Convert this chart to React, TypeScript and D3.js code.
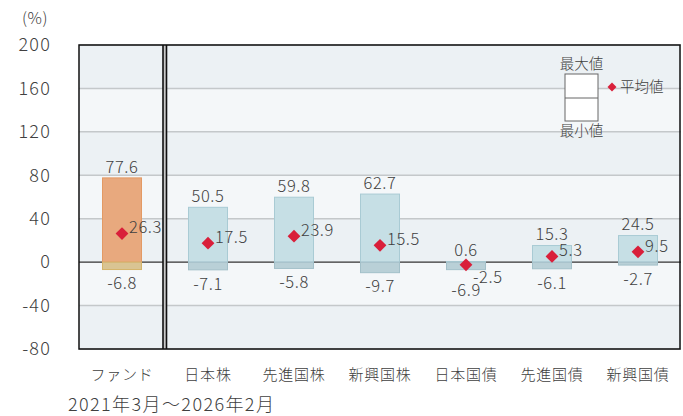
import React from "react";
import * as d3 from "d3";

const categories = ["ファンド", "日本株", "先進国株", "新興国株", "日本国債", "先進国債", "新興国債"];
const maxValues = [77.6, 50.5, 59.8, 62.7, 0.6, 15.3, 24.5];
const minValues = [-6.8, -7.1, -5.8, -9.7, -6.9, -6.1, -2.7];
const meanValues = [26.3, 17.5, 23.9, 15.5, -2.5, 5.3, 9.5];
const yTicks = [200, 160, 120, 80, 40, 0, -40, -80];

const W = 683;
const H = 416;
const M = { left: 79, right: 681, top: 45, bottom: 349 };
const FONT = "'Noto Sans CJK JP', 'Noto Sans', sans-serif";
const TXT = "#404040";

export default function App() {
  const y = d3.scaleLinear().domain([-80, 200]).range([M.bottom, M.top]);
  const x = d3.scaleBand().domain(categories).range([M.left, M.right]).paddingInner(0).paddingOuter(0);
  const bw = 39;
  const bands = d3.range(yTicks.length - 1).map((i) => ({ hi: yTicks[i], lo: yTicks[i + 1], dark: i % 2 === 0 }));
  const diamond = d3.symbol().type(d3.symbolSquare).size(82)();
  const sepX = (x(categories[1]) as number);

  return (
    <svg width={W} height={H} style={{ position: "absolute", left: 0, top: 0 }} fontFamily={FONT} fontWeight={300}>
      <rect x={0} y={0} width={W} height={H} fill="#fff" />
      {bands.map((b, i) => (
        <rect key={i} x={M.left} y={y(b.hi)} width={M.right - M.left} height={y(b.lo) - y(b.hi)} fill={b.dark ? "#ecf1f4" : "#f4f7f9"} />
      ))}
      {yTicks.map((t) => (
        <line key={t} x1={M.left} x2={M.right} y1={y(t)} y2={y(t)} stroke={t === 0 ? "#333" : "#c4c8ca"} strokeWidth={t === 0 ? 1.2 : 1.5} />
      ))}
      {yTicks.map((t) => (
        <text key={"l" + t} x={51} y={y(t)} dy="0.35em" textAnchor="end" fontSize={18} letterSpacing={1.2} fill={TXT}>{t}</text>
      ))}
      <text x={35} y={18} dy="0.35em" textAnchor="middle" fontSize={16} letterSpacing={0.5} fill={TXT}>(%)</text>

      {categories.map((c, i) => {
        const cx = (x(c) as number) + x.bandwidth() / 2;
        const isFund = i === 0;
        const posFill = isFund ? "#e8a97e" : "#c6dfe5";
        const posStroke = isFund ? "#e39a64" : "#a9cbd4";
        const negFill = isFund ? "#d9c493" : "#b9d0d7";
        const negStroke = isFund ? "#d4b46a" : "#a3c0c9";
        const mean = meanValues[i];
        const meanBelow = mean < 0;
        const posTop = Math.max(maxValues[i], 0);
        return (
          <g key={c}>
            {maxValues[i] > 0 && (
              <rect x={cx - bw / 2} y={y(posTop)} width={bw} height={y(0) - y(posTop)} fill={posFill} stroke={posStroke} strokeWidth={1} />
            )}
            <rect x={cx - bw / 2} y={y(0)} width={bw} height={y(minValues[i]) - y(0)} fill={negFill} stroke={negStroke} strokeWidth={1} />
            <text x={cx} y={y(maxValues[i]) - 11} dy="0.35em" textAnchor="middle" fontSize={16.5} letterSpacing={0.6} fill={TXT}>{maxValues[i].toFixed(1)}</text>
            <text x={cx} y={y(minValues[i]) + (meanBelow ? 21 : 14)} dy="0.35em" textAnchor="middle" fontSize={16.5} letterSpacing={0.6} fill={TXT}>{minValues[i].toFixed(1)}</text>
            <path d={diamond} transform={`translate(${cx},${y(mean)}) rotate(45)`} fill="#d91f3a" />
            <text x={cx + 7} y={y(mean) + (meanBelow ? 12 : -6)} dy="0.35em" textAnchor="start" fontSize={16.5} letterSpacing={0.6} fill={TXT}>{mean.toFixed(1)}</text>
            <text x={cx} y={375} dy="0.35em" textAnchor="middle" fontSize={15} letterSpacing={0.8} fill={TXT}>{c}</text>
          </g>
        );
      })}

      <rect x={sepX - 2} y={M.top} width={4} height={M.bottom - M.top} fill="#c8c8c8" />
      <line x1={sepX - 2} x2={sepX - 2} y1={M.top} y2={M.bottom} stroke="#111" strokeWidth={1.6} />
      <line x1={sepX + 1.5} x2={sepX + 1.5} y1={M.top} y2={M.bottom} stroke="#111" strokeWidth={1.6} />
      <rect x={M.left} y={M.top} width={M.right - M.left - 1} height={M.bottom - M.top} fill="none" stroke="#111" strokeWidth={1.5} />

      <g>
        <rect x={565} y={74} width={33} height={47} fill="#fff" stroke="#666" strokeWidth={1} />
        <line x1={565} x2={598} y1={98} y2={98} stroke="#666" strokeWidth={1} />
        <text x={581.5} y={64} dy="0.35em" textAnchor="middle" fontSize={14.5} fill={TXT}>最大値</text>
        <text x={581.5} y={131} dy="0.35em" textAnchor="middle" fontSize={14.5} fill={TXT}>最小値</text>
        <path d={d3.symbol().type(d3.symbolSquare).size(40)()} transform={`translate(612,87) rotate(45)`} fill="#d91f3a" />
        <text x={620} y={87} dy="0.35em" textAnchor="start" fontSize={14.5} fill={TXT}>平均値</text>
      </g>

      <text x={68} y={405} dy="0.35em" textAnchor="start" fontSize={18} letterSpacing={1.4} fill={TXT}>2021年3月～2026年2月</text>
    </svg>
  );
}
